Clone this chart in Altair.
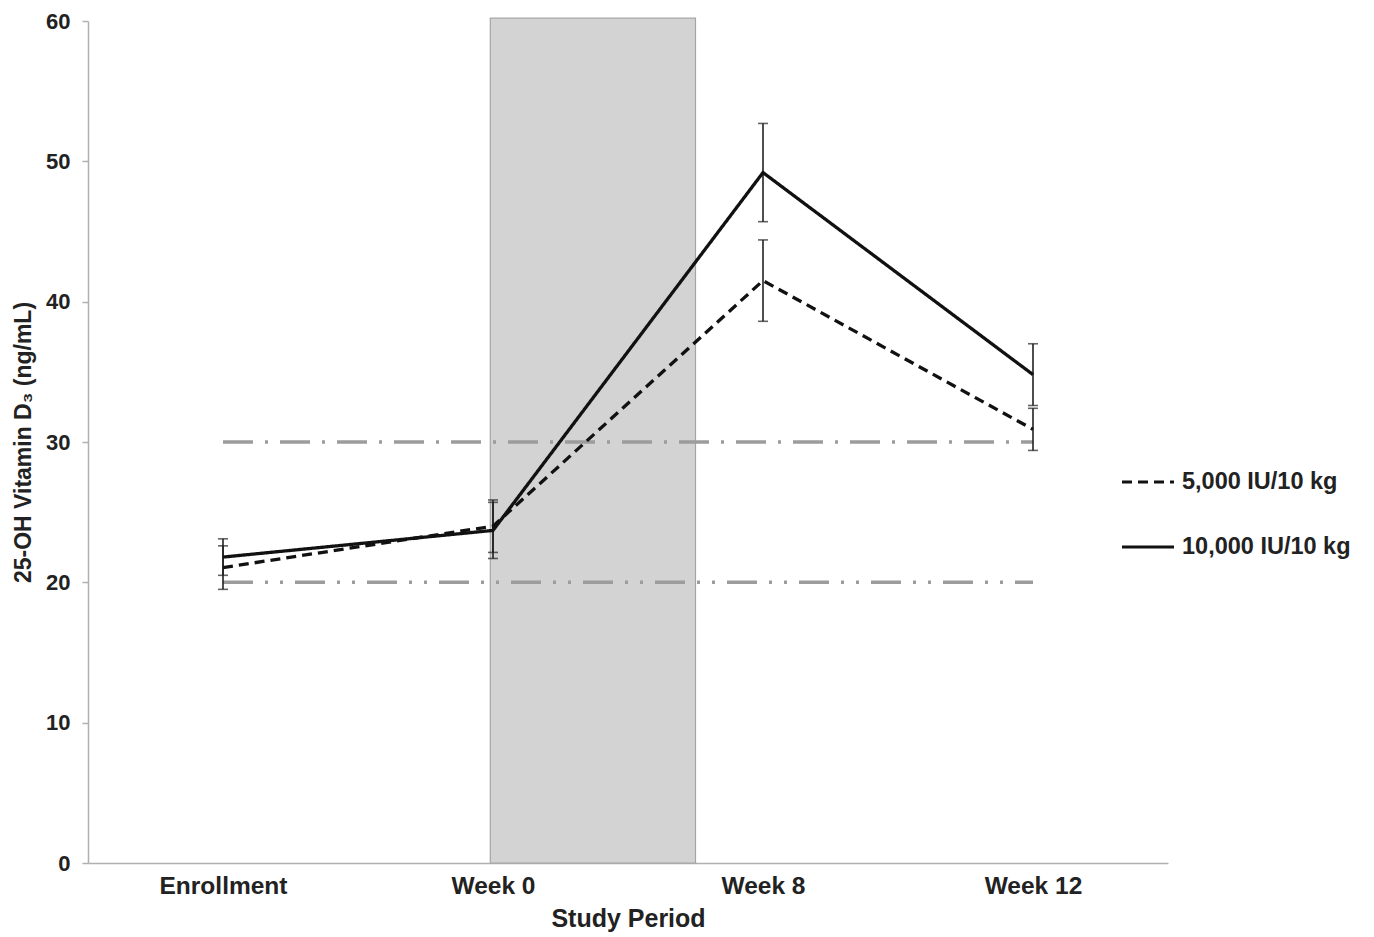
import json
import altair as alt
import pandas as pd

# ---- data ----
periods = ["Enrollment", "Week 0", "Week 8", "Week 12"]
series_names = ["5,000 IU/10 kg", "10,000 IU/10 kg"]
mean_5000 = [21.05, 24.0, 41.5, 30.9]
err_5000 = [1.55, 1.87, 2.9, 1.5]
mean_10000 = [21.8, 23.7, 49.2, 34.8]
err_10000 = [1.3, 2.0, 3.5, 2.2]

ref_levels = [30, 20]
ref_dash = [[30, 12, 3, 12], [30, 12, 3, 12, 3, 12]]
ref_start, ref_end = 0, 3

shade_x = [0.99, 1.75]
shade_y = [0, 60.2]

rows = []
for name, means, errs in [(series_names[0], mean_5000, err_5000),
                          (series_names[1], mean_10000, err_10000)]:
    for i, (m, e) in enumerate(zip(means, errs)):
        rows.append({"idx": i, "period": periods[i], "series": name,
                     "mean": m, "lo": m - e, "hi": m + e})
df = pd.DataFrame(rows)

label_expr = json.dumps(periods) + "[datum.value]"

x_scale = alt.Scale(domain=[-0.5, 3.5], nice=False, zero=False)
y_scale = alt.Scale(domain=[0, 60], nice=False)

x_axis = alt.Axis(values=[0, 1, 2, 3], labelExpr=label_expr, title="Study Period",
                  ticks=False, grid=False, labelFontSize=24.5, labelFontWeight="bold",
                  labelFont="Liberation Sans", labelColor="#222", labelPadding=11,
                  titleFontSize=25, titleFontWeight="bold", titleFont="Liberation Sans",
                  titleColor="#222", titlePadding=9, domainColor="#b0b0b0", domainWidth=1.5)
y_axis = alt.Axis(values=[0, 10, 20, 30, 40, 50, 60], title="25-OH Vitamin D₃ (ng/mL)",
                  grid=False, tickSize=6, tickColor="#b0b0b0", tickWidth=1.5,
                  labelFontSize=22, labelFontWeight="bold", labelFont="Liberation Sans",
                  labelColor="#222", labelPadding=12,
                  titleFontSize=23, titleFontWeight="bold", titleFont="Liberation Sans",
                  titleColor="#222", titlePadding=10, domainColor="#b0b0b0", domainWidth=1.5)

shade_df = pd.DataFrame({"x": [shade_x[0]], "x2": [shade_x[1]],
                         "y": [shade_y[0]], "y2": [shade_y[1]]})
shade = alt.Chart(shade_df).mark_rect(fill="#d3d3d3", stroke="#a5a5a5", strokeWidth=1.2).encode(
    x=alt.X("x:Q", scale=x_scale, axis=x_axis),
    x2="x2:Q",
    y=alt.Y("y:Q", scale=y_scale, axis=y_axis),
    y2="y2:Q",
)

ref_layers = []
for lvl, dash in zip(ref_levels, ref_dash):
    rdf = pd.DataFrame({"x": [ref_start], "x2": [ref_end], "y": [lvl]})
    ref_layers.append(
        alt.Chart(rdf).mark_rule(color="#9c9c9c", strokeWidth=3.5, strokeDash=dash,
                                 strokeCap="butt").encode(
            x=alt.X("x:Q", scale=x_scale), x2="x2:Q", y=alt.Y("y:Q", scale=y_scale))
    )

stroke_dash = alt.StrokeDash(
    "series:N",
    scale=alt.Scale(domain=series_names, range=[[10, 6], [1, 0]]),
    legend=alt.Legend(title=None, orient="none", legendX=1032, legendY=433,
                      symbolType="stroke", symbolSize=2700, symbolStrokeWidth=3.2,
                      symbolStrokeColor="#111", labelFontSize=23.5, labelFontWeight="bold",
                      labelFont="Liberation Sans", labelColor="#222", rowPadding=25,
                      labelOffset=6, labelLimit=0),
)

lines = alt.Chart(df).mark_line(color="#111", strokeWidth=3.3).encode(
    x=alt.X("idx:Q", scale=x_scale),
    y=alt.Y("mean:Q", scale=y_scale),
    strokeDash=stroke_dash,
    detail="series:N",
)

err_rules = alt.Chart(df).mark_rule(color="#222", strokeWidth=1.6).encode(
    x=alt.X("idx:Q", scale=x_scale),
    y=alt.Y("lo:Q", scale=y_scale),
    y2="hi:Q",
)
caps_lo = alt.Chart(df).mark_tick(color="#222", orient="horizontal", size=10, thickness=1.6).encode(
    x=alt.X("idx:Q", scale=x_scale), y=alt.Y("lo:Q", scale=y_scale))
caps_hi = alt.Chart(df).mark_tick(color="#222", orient="horizontal", size=10, thickness=1.6).encode(
    x=alt.X("idx:Q", scale=x_scale), y=alt.Y("hi:Q", scale=y_scale))

chart = alt.layer(shade, *ref_layers, err_rules, caps_lo, caps_hi, lines).properties(
    width=1080, height=842, padding={"left": 4, "top": 2, "right": 5, "bottom": 5}
).configure(background="white").configure_view(strokeWidth=0, stroke=None)

chart.save("out.html", embed_options={"renderer": "svg", "actions": False})
